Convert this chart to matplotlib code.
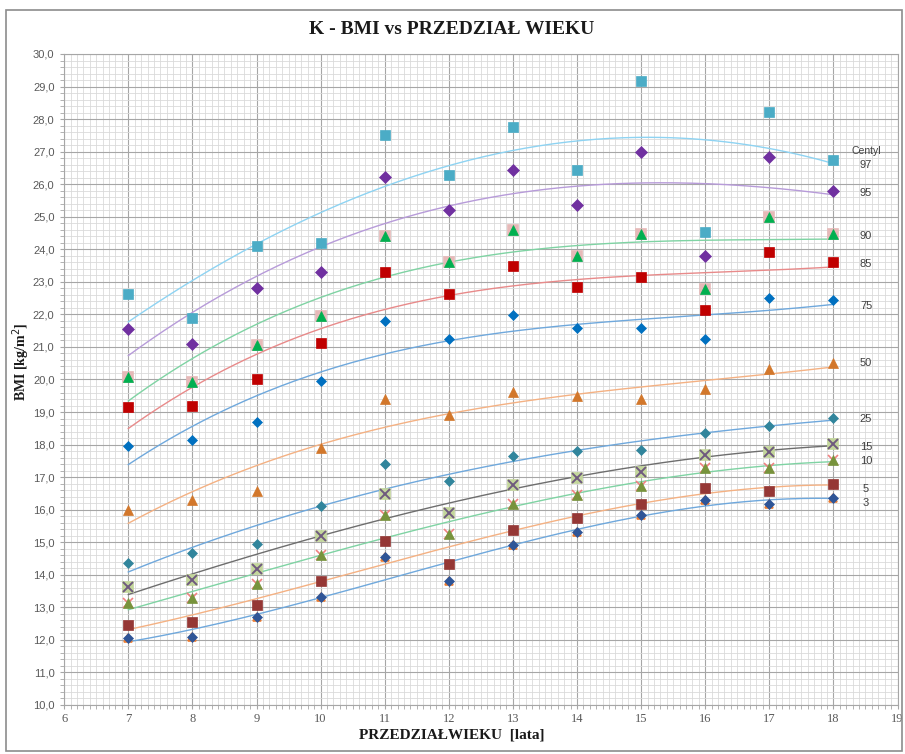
import numpy as np
import matplotlib
matplotlib.use("Agg")
import matplotlib.pyplot as plt
from matplotlib.ticker import MultipleLocator, FuncFormatter
from matplotlib.patches import Rectangle

# ---------------- data ----------------
ages = [7, 8, 9, 10, 11, 12, 13, 14, 15, 16, 17, 18]

p97 = [22.62, 21.89, 24.11, 24.18, 27.51, 26.29, 27.77, 26.45, 29.18, 24.52, 28.23, 26.75]
p95 = [21.55, 21.10, 22.82, 23.29, 26.23, 25.21, 26.45, 25.35, 26.98, 23.80, 26.85, 25.80]
p90 = [20.07, 19.93, 21.07, 21.95, 24.40, 23.62, 24.58, 23.79, 24.47, 22.78, 24.98, 24.46]
p85 = [19.16, 19.19, 20.02, 21.12, 23.31, 22.63, 23.48, 22.85, 23.15, 22.14, 23.91, 23.60]
p75 = [17.96, 18.13, 18.69, 19.94, 21.81, 21.24, 21.98, 21.58, 21.58, 21.24, 22.49, 22.45]
p50 = [16.00, 16.30, 16.58, 17.91, 19.40, 18.90, 19.61, 19.49, 19.40, 19.70, 20.31, 20.50]
p25 = [14.37, 14.66, 14.95, 16.10, 17.39, 16.87, 17.66, 17.79, 17.83, 18.36, 18.57, 18.83]
p15 = [13.63, 13.84, 14.19, 15.19, 16.47, 15.89, 16.75, 16.98, 17.15, 17.69, 17.77, 18.03]
p10 = [13.12, 13.30, 13.72, 14.61, 15.84, 15.24, 16.18, 16.45, 16.73, 17.27, 17.28, 17.52]
p5 = [12.47, 12.56, 13.07, 13.82, 15.04, 14.34, 15.39, 15.74, 16.17, 16.67, 16.57, 16.79]
p3 = [12.07, 12.10, 12.69, 13.31, 14.55, 13.80, 14.93, 15.32, 15.84, 16.30, 16.18, 16.36]

centyl_labels = ["97", "95", "90", "85", "75", "50", "25", "15", "10", "5", "3"]
label_y = [26.59, 25.72, 24.42, 23.55, 22.25, 20.52, 18.79, 17.93, 17.50, 16.63, 16.20]

title = "K - BMI vs PRZEDZIAŁ WIEKU"
xlabel = "PRZEDZIAŁWIEKU  [lata]"
ylabel = "BMI [kg/m$^2$]"

# ---------------- styles ----------------
series = [
    # values, marker, marker color, line color, size, under-marker (marker, color, size)
    (p97, "s", "#4BACC6", "#8ED3F2", 7.0, None),
    (p95, "D", "#7030A0", "#B79BD9", 6.0, None),
    (p90, "^", "#00B050", "#7FD3A3", 6.5, ("s", "#E6B9B8", 7.5)),
    (p85, "s", "#C00000", "#E88A8A", 7.0, None),
    (p75, "D", "#0070C0", "#6FA8DC", 5.0, None),
    (p50, "^", "#D2772B", "#F4B183", 7.0, None),
    (p25, "D", "#31859C", "#6FA8DC", 5.5, None),
    (p15, "x", "#6F5A7E", "#6E6E6E", 6.5, ("s", "#C3D69B", 7.5)),
    (p10, "^", "#77933C", "#7FD3A3", 7.0, ("x", "#F08080", 6.5)),
    (p5, "s", "#953735", "#F4B183", 7.0, None),
    (p3, "D", "#2F5597", "#6FA8DC", 5.5, ("^", "#ED7D31", 6.0)),
]

W, H = 905, 754
fig = plt.figure(figsize=(W / 100, H / 100), dpi=100)
fig.patch.set_facecolor("white")

# outer chart border
fig.add_artist(Rectangle((6 / W, 1 - 751 / H), 896 / W, 741 / H,
                         transform=fig.transFigure, fill=False,
                         edgecolor="#8C8C8C", linewidth=1.2))

ax = fig.add_axes([64.2 / W, 1 - 705 / H, (897.5 - 64.2) / W, 651 / H])

ax.set_xlim(6, 19)
ax.set_ylim(10, 30)
ax.xaxis.set_major_locator(MultipleLocator(1))
ax.xaxis.set_minor_locator(MultipleLocator(0.1))
ax.yaxis.set_major_locator(MultipleLocator(1))
ax.yaxis.set_minor_locator(MultipleLocator(0.2))
ax.yaxis.set_major_formatter(FuncFormatter(lambda v, p: f"{v:.1f}".replace(".", ",")))
ax.xaxis.set_major_formatter(FuncFormatter(lambda v, p: f"{int(round(v))}"))

ax.grid(which="major", color="#A6A6A6", linewidth=0.8, zorder=0)
ax.grid(which="minor", color="#DADADA", linewidth=0.6, zorder=0)
ax.set_axisbelow(True)
for s in ax.spines.values():
    s.set_color("#A6A6A6")
    s.set_linewidth(0.8)

ax.tick_params(which="both", color="#A6A6A6", direction="out")
ax.tick_params(which="major", length=3)
ax.tick_params(which="minor", length=3)
ax.tick_params(axis="y", labelsize=8, labelcolor="#595959", pad=4)
ax.tick_params(axis="x", labelsize=9, labelcolor="#595959", pad=3)
for lab in ax.get_yticklabels():
    lab.set_fontfamily("Liberation Sans")
for lab in ax.get_xticklabels():
    lab.set_fontfamily("Liberation Serif")

xs = np.array(ages, dtype=float)
xfine = np.linspace(xs.min(), xs.max(), 200)
for vals, mk, mc, lc, ms, under in series:
    coef = np.polyfit(xs, np.array(vals), 3)
    ax.plot(xfine, np.polyval(coef, xfine), color=lc, linewidth=1.0, zorder=2)
    if under is not None:
        umk, uc, ums = under
        ax.plot(xs, vals, linestyle="none", marker=umk, color=uc, markersize=ums,
                markeredgewidth=1.2, zorder=3)
    ax.plot(xs, vals, linestyle="none", marker=mk, color=mc, markersize=ms,
            markeredgewidth=1.4 if mk == "x" else 0.5, zorder=4)

# Centyl labels
ax.text(18.51, 27.02, "Centyl", ha="center", va="center", fontsize=7.5,
        family="Liberation Sans", color="#404040")
for lab, yv in zip(centyl_labels, label_y):
    ax.text(18.51, yv, lab, ha="center", va="center", fontsize=8,
            family="Liberation Sans", color="#404040")

fig.text(452 / W, 1 - 30 / H, title, ha="center", va="center", fontsize=14,
         fontweight="bold", family="Liberation Serif", color="#1A1A1A")
fig.text(452 / W, 1 - 735 / H, xlabel, ha="center", va="center", fontsize=11,
         fontweight="bold", family="Liberation Serif", color="#1A1A1A")
fig.text(21 / W, 1 - 362 / H, ylabel, ha="center", va="center", fontsize=10,
         fontweight="bold", family="Liberation Serif", color="#1A1A1A",
         rotation=90)

fig.savefig("out.png", dpi=100, facecolor="white")
